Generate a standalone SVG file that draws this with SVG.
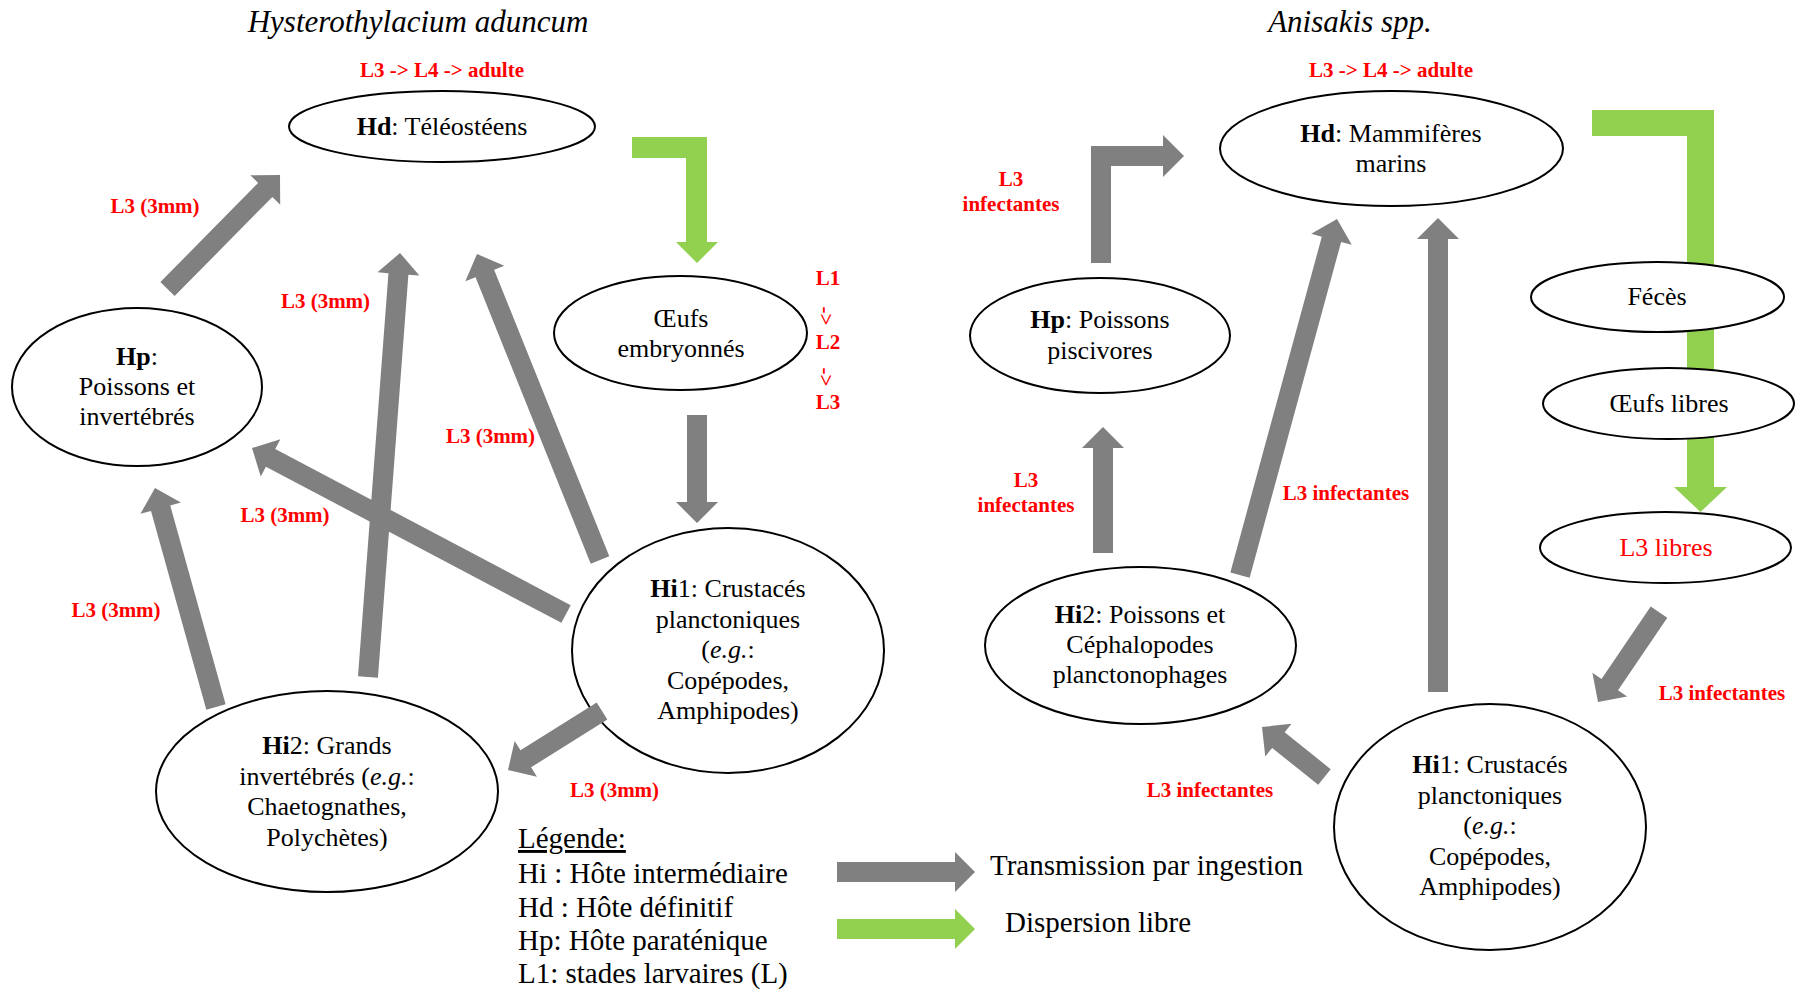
<svg xmlns="http://www.w3.org/2000/svg" width="1796" height="991" viewBox="0 0 1796 991">
<style>
text{font-family:"Liberation Serif","Times New Roman",serif;fill:#000}
.n{font-size:26px;text-anchor:middle}
.b{font-weight:bold}
.i{font-style:italic}
.t{font-size:31px;font-style:italic;text-anchor:middle}
.r{font-size:21px;font-weight:bold;fill:#FF0000;text-anchor:middle}
.lg{font-size:29px}
ellipse{fill:#fff;stroke:#000;stroke-width:2}
.g{fill:#808080}
.v{fill:#92D050}
</style>
<rect width="1796" height="991" fill="#fff"/>
<text class="t" x="418" y="32">Hysterothylacium aduncum</text>
<text class="t" x="1350" y="32">Anisakis spp.</text>

<g id="free-dispersion-connectors">
<polygon class="v" points="632,137 707,137 707,242 718,242 697,263 676,242 686,242 686,158 632,158"/>
<polygon class="v" points="1592,110 1714,110 1714,487 1727,487 1700.5,512 1674,487 1687,487 1687,136 1592,136"/>
</g>

<g id="node-hd-left">
<ellipse cx="442" cy="126.5" rx="153" ry="35.5"/>
<text class="n" x="442" y="135"><tspan class="b">Hd</tspan>: Téléostéens</text>
<text class="r" x="442" y="77">L3 -&gt; L4 -&gt; adulte</text>
</g>
<g id="node-oeufs-embryonnes">
<ellipse cx="680.5" cy="333" rx="126.5" ry="57"/>
<text class="n" x="681" y="327">Œufs</text>
<text class="n" x="681" y="357">embryonnés</text>
<text class="r" x="828" y="285">L1</text>
<text class="r" transform="translate(824,316) rotate(90)" x="0" y="5">-&gt;</text>
<text class="r" x="828" y="349">L2</text>
<text class="r" transform="translate(824,377) rotate(90)" x="0" y="5">-&gt;</text>
<text class="r" x="828" y="409">L3</text>
</g>
<g id="node-hp-left">
<ellipse cx="137" cy="387" rx="125" ry="79"/>
<text class="n" x="137" y="365"><tspan class="b">Hp</tspan>:</text>
<text class="n" x="137" y="395">Poissons et</text>
<text class="n" x="137" y="425">invertébrés</text>
</g>
<g id="node-hi1-left">
<ellipse cx="728" cy="650.5" rx="156" ry="122.5"/>
<text class="n" x="728" y="597"><tspan class="b">Hi</tspan>1: Crustacés</text>
<text class="n" x="728" y="627.5">planctoniques</text>
<text class="n" x="728" y="658">(<tspan class="i">e.g.</tspan>:</text>
<text class="n" x="728" y="688.5">Copépodes,</text>
<text class="n" x="728" y="719">Amphipodes)</text>
</g>
<g id="node-hi2-left">
<ellipse cx="327" cy="791.5" rx="171" ry="100.5"/>
<text class="n" x="327" y="754"><tspan class="b">Hi</tspan>2: Grands</text>
<text class="n" x="327" y="784.5">invertébrés (<tspan class="i">e.g.</tspan>:</text>
<text class="n" x="327" y="815">Chaetognathes,</text>
<text class="n" x="327" y="845.5">Polychètes)</text>
</g>

<g id="node-hd-right">
<ellipse cx="1391.5" cy="148.5" rx="171.5" ry="57.5"/>
<text class="n" x="1391" y="142"><tspan class="b">Hd</tspan>: Mammifères</text>
<text class="n" x="1391" y="172">marins</text>
<text class="r" x="1391" y="77">L3 -&gt; L4 -&gt; adulte</text>
</g>
<g id="node-hp-right">
<ellipse cx="1100" cy="335.5" rx="130" ry="57.5"/>
<text class="n" x="1100" y="328"><tspan class="b">Hp</tspan>: Poissons</text>
<text class="n" x="1100" y="359">piscivores</text>
</g>
<g id="node-feces">
<ellipse cx="1657.5" cy="297" rx="126.5" ry="35"/>
<text class="n" x="1657" y="305">Fécès</text>
</g>
<g id="node-oeufs-libres">
<ellipse cx="1668.5" cy="403.5" rx="125.5" ry="35.5"/>
<text class="n" x="1669" y="412">Œufs libres</text>
</g>
<g id="node-l3-libres">
<ellipse cx="1665.5" cy="547.5" rx="125.5" ry="35.5"/>
<text class="n" x="1666" y="556" style="fill:#FF0000">L3 libres</text>
</g>
<g id="node-hi2-right">
<ellipse cx="1140.5" cy="645.5" rx="155.5" ry="78.5"/>
<text class="n" x="1140" y="623"><tspan class="b">Hi</tspan>2: Poissons et</text>
<text class="n" x="1140" y="653">Céphalopodes</text>
<text class="n" x="1140" y="683">planctonophages</text>
</g>
<g id="node-hi1-right">
<ellipse cx="1490" cy="827" rx="156" ry="123"/>
<text class="n" x="1490" y="773"><tspan class="b">Hi</tspan>1: Crustacés</text>
<text class="n" x="1490" y="803.5">planctoniques</text>
<text class="n" x="1490" y="834">(<tspan class="i">e.g.</tspan>:</text>
<text class="n" x="1490" y="864.5">Copépodes,</text>
<text class="n" x="1490" y="895">Amphipodes)</text>
</g>

<g id="ingestion-connectors">
<polygon class="g" transform="translate(280,175) rotate(-45.4)" points="-160.2,-10 -21,-10 -21,-21 0,0 -21,21 -21,10 -160.2,10"/>
<polygon class="g" transform="translate(400,253) rotate(-85.68)" points="-425.2,-10 -21,-10 -21,-21 0,0 -21,21 -21,10 -425.2,10"/>
<polygon class="g" transform="translate(477,254) rotate(-111.9)" points="-329.8,-10 -21,-10 -21,-21 0,0 -21,21 -21,10 -329.8,10"/>
<polygon class="g" transform="translate(252,448) rotate(-152.14)" points="-355.2,-10 -21,-10 -21,-21 0,0 -21,21 -21,10 -355.2,10"/>
<polygon class="g" transform="translate(155,488) rotate(-105.56)" points="-227.3,-10 -21,-10 -21,-21 0,0 -21,21 -21,10 -227.3,10"/>
<polygon class="g" transform="translate(508,770) rotate(147.9)" points="-111,-10 -21,-10 -21,-21 0,0 -21,21 -21,10 -111,10"/>
<polygon class="g" transform="translate(697,523) rotate(90)" points="-108,-10 -21,-10 -21,-21 0,0 -21,21 -21,10 -108,10"/>
<polygon class="g" points="1091,263 1091,146 1163,146 1163,135 1184,156 1163,177 1163,166 1111,166 1111,263"/>
<polygon class="g" transform="translate(1103,427) rotate(-90)" points="-126,-10 -21,-10 -21,-21 0,0 -21,21 -21,10 -126,10"/>
<polygon class="g" transform="translate(1337,219) rotate(-74.76)" points="-369,-10 -21,-10 -21,-21 0,0 -21,21 -21,10 -369,10"/>
<polygon class="g" transform="translate(1438,218) rotate(-90)" points="-474,-10 -21,-10 -21,-21 0,0 -21,21 -21,10 -474,10"/>
<polygon class="g" transform="translate(1598,702) rotate(124.13)" points="-108.7,-10 -21,-10 -21,-21 0,0 -21,21 -21,10 -108.7,10"/>
<polygon class="g" transform="translate(1262,727) rotate(-141.34)" points="-80,-10 -21,-10 -21,-21 0,0 -21,21 -21,10 -80,10"/>
</g>

<g id="connector-labels">
<text class="r" x="155" y="213">L3 (3mm)</text>
<text class="r" x="325.5" y="308">L3 (3mm)</text>
<text class="r" x="490.5" y="443">L3 (3mm)</text>
<text class="r" x="285" y="522">L3 (3mm)</text>
<text class="r" x="116" y="617">L3 (3mm)</text>
<text class="r" x="614.5" y="797">L3 (3mm)</text>
<text class="r" x="1011" y="186">L3</text>
<text class="r" x="1011" y="211">infectantes</text>
<text class="r" x="1026" y="487">L3</text>
<text class="r" x="1026" y="512">infectantes</text>
<text class="r" x="1346" y="500">L3 infectantes</text>
<text class="r" x="1722" y="700">L3 infectantes</text>
<text class="r" x="1210" y="797">L3 infectantes</text>
</g>

<g id="legend">
<text class="lg" x="518" y="848" text-decoration="underline">Légende:</text>
<text class="lg" x="518" y="883">Hi : Hôte intermédiaire</text>
<text class="lg" x="518" y="917">Hd : Hôte définitif</text>
<text class="lg" x="518" y="950">Hp: Hôte paraténique</text>
<text class="lg" x="518" y="983">L1: stades larvaires (L)</text>
<polygon class="g" points="837,862 955,862 955,852 975,872 955,892 955,882 837,882"/>
<polygon class="v" points="837,919 955,919 955,909 975,929 955,949 955,939 837,939"/>
<text class="lg" x="990" y="875">Transmission par ingestion</text>
<text class="lg" x="1005" y="932">Dispersion libre</text>
</g>
</svg>
